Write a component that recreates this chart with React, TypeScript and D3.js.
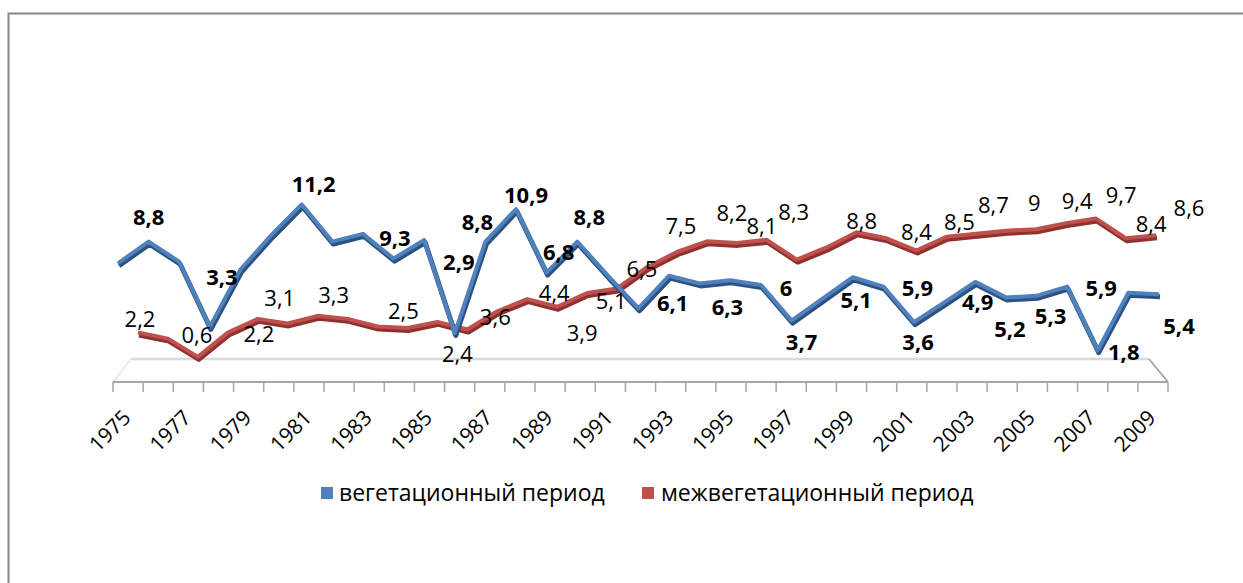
import React from "react";
import * as d3 from "d3";

const years = [1975, 1976, 1977, 1978, 1979, 1980, 1981, 1982, 1983, 1984, 1985, 1986, 1987, 1988, 1989, 1990, 1991, 1992, 1993, 1994, 1995, 1996, 1997, 1998, 1999, 2000, 2001, 2002, 2003, 2004, 2005, 2006, 2007, 2008, 2009];
const tickLabels = ["1975", "1977", "1979", "1981", "1983", "1985", "1987", "1989", "1991", "1993", "1995", "1997", "1999", "2001", "2003", "2005", "2007", "2009"];
const vegetation = [7.4, 8.8, 7.5, 3.3, 7.0, 9.2, 11.2, 8.8, 9.3, 7.7, 8.9, 2.9, 8.8, 10.9, 6.8, 8.8, 6.6, 4.5, 6.6, 6.1, 6.3, 6.0, 3.7, 5.1, 6.5, 5.9, 3.6, 4.9, 6.2, 5.2, 5.3, 5.9, 1.8, 5.5, 5.4];
const interVegetation = [2.2, 1.8, 0.6, 2.2, 3.1, 2.8, 3.3, 3.1, 2.6, 2.5, 2.9, 2.4, 3.6, 4.4, 3.9, 4.8, 5.1, 6.5, 7.5, 8.2, 8.1, 8.3, 7.0, 7.8, 8.8, 8.4, 7.6, 8.5, 8.7, 8.9, 9.0, 9.4, 9.7, 8.4, 8.6];
const seriesNames = ["вегетационный период", "межвегетационный период"];
const vegetationLabelYears = [1976, 1978, 1981, 1983, 1986, 1987, 1988, 1989, 1990, 1994, 1995, 1996, 1997, 1998, 2000, 2001, 2002, 2004, 2005, 2006, 2007, 2009];
const interLabelYears = [1975, 1977, 1978, 1979, 1981, 1984, 1986, 1987, 1988, 1989, 1991, 1992, 1993, 1994, 1995, 1996, 1999, 2000, 2002, 2003, 2005, 2006, 2007, 2008, 2009];

// label placement offsets (px, relative to the point)
const vegetationLabelOffsets: [number, number][] = [
  [0, -25], [12, -50], [12, -20], [32, 4], [4, -71], [-8, -20], [10, -14], [12, -21], [12, -25],
  [-27, 20], [-3, 27], [25, 3], [10, 21], [34, 1], [34, 2], [4, 20], [33, 0], [4, 32], [14, 20], [34, 2], [26, 2], [20, 32],
];
const interLabelOffsets: [number, number][] = [
  [2, -13], [-1, -22], [31, 2], [22, -21], [16, -21], [-4, -17], [-10, 25], [-2, 6], [27, -6], [25, 26],
  [-6, 13], [-5, 2], [4, -26], [25, -28], [25, -17], [27, -28], [5, -11], [30, -6], [13, -15], [17, -29],
  [-2, -26], [11, -22], [25, -23], [25, -14], [33, -27],
];

const W = 1243;
const H = 583;
const FONT = "'Open Sans', sans-serif";

const fmt = (v: number) => String(v).replace(".", ",");

export default function App() {
  const xBlue = d3.scalePoint<number>().domain(years).range([118, 1159]);
  const yBlue = d3.scaleLinear().domain([0, 12]).range([378, 378 - 15.5 * 12]);
  const xRed = d3.scalePoint<number>().domain(years).range([138, 1156]);
  const yRed = d3.scaleLinear().domain([0, 12]).range([366, 366 - 15.2 * 12]);
  const xFront = d3.scaleBand<number>().domain(years).range([113, 1168]);
  const xBack = d3.scaleBand<number>().domain(years).range([131, 1149]);
  const floorFrontY = 382;
  const floorBackY = 359;

  const blueLine = d3
    .line<number>()
    .x((_, i) => xBlue(years[i]) as number)
    .y((d) => yBlue(d));
  const redLine = d3
    .line<number>()
    .x((_, i) => xRed(years[i]) as number)
    .y((d) => yRed(d));

  const tickXs = years.map((y) => xFront(y) as number).concat([xFront.range()[1]]);

  const bx0 = xBack.range()[0];
  const bx1 = xBack.range()[1];
  const fx0 = xFront.range()[0];
  const fx1 = xFront.range()[1];

  return (
    <svg width={W} height={H} style={{ position: "absolute", left: 0, top: 0, background: "#fff" }}>
      <rect x={0} y={0} width={W} height={H} fill="#fff" />
      <path d={`M8.5,${H} L8.5,13.5 L${W},13.5`} fill="none" stroke="#878787" strokeWidth={2} />

      {/* floor */}
      <path d={`M${fx0},${floorFrontY} L${bx0},${floorBackY} L${bx1},${floorBackY} L${fx1},${floorFrontY} Z`} fill="#fff" stroke="none" />
      <line x1={bx0} y1={floorBackY} x2={bx1} y2={floorBackY} stroke="#d9d9d9" strokeWidth={2.5} />
      <line x1={fx0} y1={floorFrontY} x2={bx0} y2={floorBackY} stroke="#d0d0d0" strokeWidth={1} />
      <line x1={fx1} y1={floorFrontY} x2={bx1} y2={floorBackY} stroke="#9a9a9a" strokeWidth={1.5} />
      <line x1={fx0} y1={floorFrontY} x2={fx1} y2={floorFrontY} stroke="#a6a6a6" strokeWidth={2} />
      {tickXs.map((x, i) => (
        <line key={i} x1={x} y1={floorFrontY} x2={x} y2={floorFrontY + 10} stroke="#a6a6a6" strokeWidth={1.5} />
      ))}
      {tickLabels.map((t) => {
        const yr = +t;
        const cx = (xFront(yr) as number) + xFront.bandwidth() / 2 + 4;
        const cy = 419;
        return (
          <text key={t} x={cx} y={cy} transform={`rotate(-45 ${cx} ${cy})`} textAnchor="end" fontFamily={FONT} fontSize={21} fill="#000">
            {t}
          </text>
        );
      })}

      {/* red series (back) */}
      <path d={redLine(interVegetation) || ""} transform="translate(1,2.5)" fill="none" stroke="#8e3230" strokeWidth={5} strokeLinejoin="round" />
      <path d={redLine(interVegetation) || ""} fill="none" stroke="#c0504d" strokeWidth={4} strokeLinejoin="round" />
      {/* blue series (front) */}
      <path d={blueLine(vegetation) || ""} transform="translate(1,2.5)" fill="none" stroke="#2c5282" strokeWidth={5} strokeLinejoin="round" />
      <path d={blueLine(vegetation) || ""} fill="none" stroke="#4f81bd" strokeWidth={4} strokeLinejoin="round" />

      {/* labels */}
      {interLabelYears.map((yr, k) => {
        const i = years.indexOf(yr);
        const [dx, dy] = interLabelOffsets[k];
        return (
          <text key={"r" + yr} x={(xRed(yr) as number) + dx} y={yRed(interVegetation[i]) + dy} dy="0.36em" textAnchor="middle" fontFamily={FONT} fontSize={22} fill="#000">
            {fmt(interVegetation[i])}
          </text>
        );
      })}
      {vegetationLabelYears.map((yr, k) => {
        const i = years.indexOf(yr);
        const [dx, dy] = vegetationLabelOffsets[k];
        return (
          <text key={"b" + yr} x={(xBlue(yr) as number) + dx} y={yBlue(vegetation[i]) + dy} dy="0.36em" textAnchor="middle" fontFamily={FONT} fontSize={22} fontWeight="bold" fill="#000">
            {fmt(vegetation[i])}
          </text>
        );
      })}

      {/* legend */}
      <rect x={321} y={487} width={12} height={12} fill="#4f81bd" />
      <text x={339} y={501} fontFamily={FONT} fontSize={23} fill="#000">{seriesNames[0]}</text>
      <rect x={642} y={487} width={12} height={12} fill="#c0504d" />
      <text x={661} y={501} fontFamily={FONT} fontSize={23} fill="#000">{seriesNames[1]}</text>
    </svg>
  );
}
